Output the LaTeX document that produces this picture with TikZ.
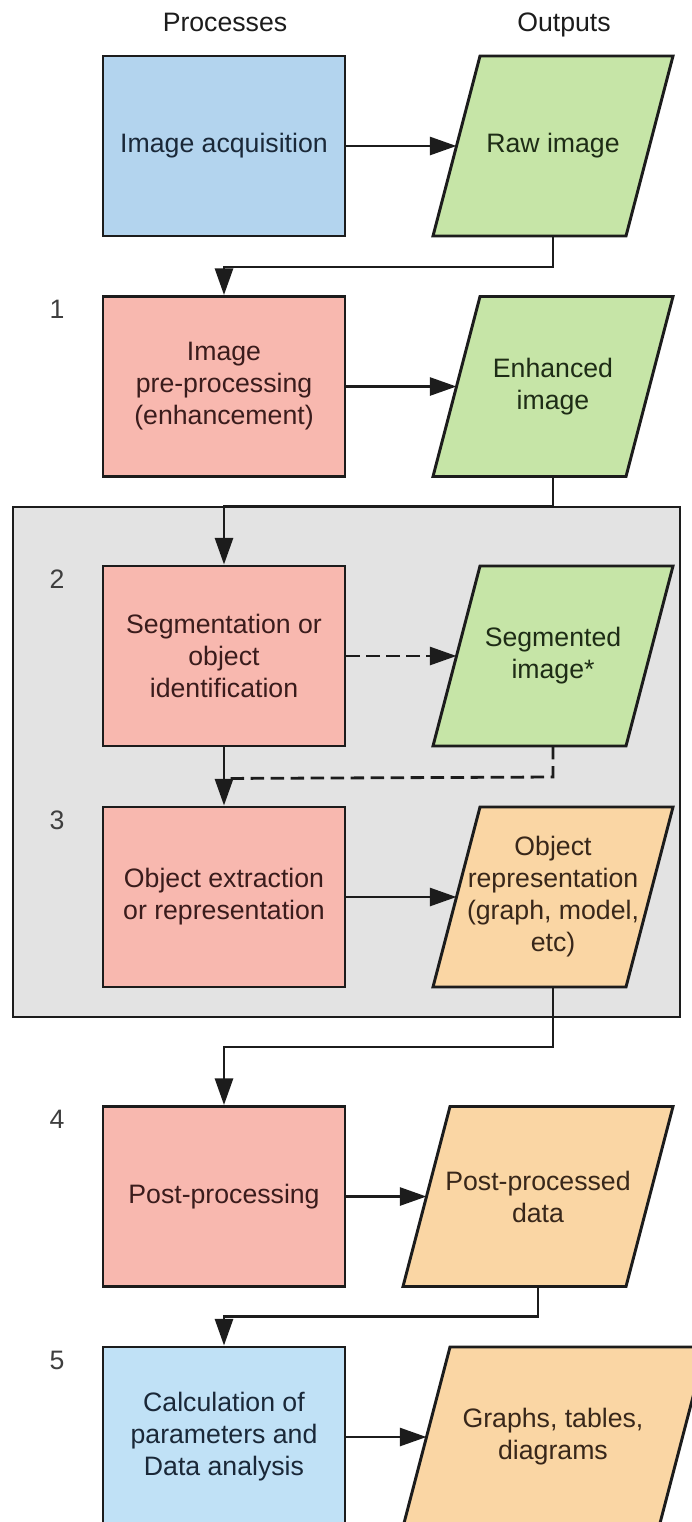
\documentclass[tikz,border=0pt]{standalone}
\usepackage{fontspec}
\setmainfont{Liberation Sans}
\usetikzlibrary{arrows.meta}

\definecolor{ink}{HTML}{1C1C1C}
\definecolor{acqblue}{HTML}{B3D4EE}
\definecolor{calcblue}{HTML}{C0E1F6}
\definecolor{procred}{HTML}{F8B8AF}
\definecolor{outgreen}{HTML}{C6E5A7}
\definecolor{outorange}{HTML}{FAD6A4}
\definecolor{stagegray}{HTML}{E3E3E3}
\definecolor{redtext}{HTML}{3A1C1C}
\definecolor{bluetext}{HTML}{1A2838}
\definecolor{greentext}{HTML}{1E2C16}
\definecolor{orangetext}{HTML}{38271A}

% parallelogram inside the frame of node #1, slanted by 47px (35.25pt)
\newcommand\dataslab[2]{%
  \draw[outpara, fill=#2] (#1.south west) -- ([xshift=-35.25pt]#1.south east)
    -- (#1.north east) -- ([xshift=35.25pt]#1.north west) -- cycle;
  \path ([xshift=17.625pt]#1.west) coordinate (#1-in);
  \path (#1.center |- #1.south) coordinate (#1-out);
}

\begin{document}
\begin{tikzpicture}[x=0.75pt,y=-0.75pt,
  font=\fontsize{20}{24}\selectfont,
  procbox/.style={rectangle, draw=ink, line width=2.2pt,
    minimum width=181.5pt, minimum height=135pt,
    align=center, inner sep=2pt},
  outframe/.style={rectangle, draw=none, minimum height=135pt,
    minimum width=180pt, inner sep=0pt, outer sep=0pt},
  outpara/.style={draw=ink, line width=2.2pt, line join=miter},
  outlabel/.style={align=center, inner sep=0pt},
  flow/.style={line width=2.1pt, draw=ink, -{Triangle[length=20pt,width=13.5pt]}},
  link/.style={line width=2.1pt, draw=ink},
  dashlink/.style={link, dash pattern=on 10pt off 5pt},
  stepnum/.style={text=ink!85, inner sep=0pt},
  colhead/.style={text=ink, inner sep=0pt, anchor=base}
]
\useasboundingbox (0,0) rectangle (692,1522);

% column headings
\node[colhead] (hproc) at (225,31) {Processes};
\node[colhead] (hout)  at (564,31) {Outputs};

% grey stage grouping steps 2 and 3
\draw[fill=stagegray, draw=ink, line width=2.2pt] (13,507) rectangle (680,1017);

% process boxes
\node[procbox, fill=acqblue, text=bluetext] (acq) at (224,146) {Image acquisition};
\node[procbox, fill=procred, text=redtext] (pre) at (224,386.5) {Image\\pre-processing\\(enhancement)};
\node[procbox, fill=procred, text=redtext] (seg) at (224,656) {Segmentation or\\object\\identification};
\node[procbox, fill=procred, text=redtext] (ext) at (224,897) {Object extraction\\or representation};
\node[procbox, fill=procred, text=redtext] (post) at (224,1196.5) {Post-processing};
\node[procbox, fill=calcblue, text=bluetext] (calc) at (224,1437) {Calculation of\\parameters and\\Data analysis};

% output frames and their parallelograms
\node[outframe] (raw) at (553,146) {};
\node[outframe] (enh) at (553,386.5) {};
\node[outframe] (segimg) at (553,656) {};
\node[outframe] (objrep) at (553,897) {};
\node[outframe, minimum width=202.5pt] (ppd) at (538,1196.5) {};
\node[outframe, minimum width=227.25pt] (graphs) at (554.5,1437) {};

\dataslab{raw}{outgreen}
\dataslab{enh}{outgreen}
\dataslab{segimg}{outgreen}
\dataslab{objrep}{outorange}
\dataslab{ppd}{outorange}
\dataslab{graphs}{outorange}

\node[outlabel, text=greentext] (raw-t) at (raw) {Raw image};
\node[outlabel, text=greentext] (enh-t) at (enh) {Enhanced\\image};
\node[outlabel, text=greentext] (segimg-t) at (segimg) {Segmented\\image*};
\node[outlabel, text=orangetext] (objrep-t) at (objrep) {Object\\representation\\(graph, model,\\etc)};
\node[outlabel, text=orangetext] (ppd-t) at (ppd) {Post-processed\\data};
\node[outlabel, text=orangetext] (graphs-t) at (553,1437) {Graphs, tables,\\diagrams};

% step numbers
\node[stepnum] (n1) at (57,309) {1};
\node[stepnum] (n2) at (57,579) {2};
\node[stepnum] (n3) at (57,820) {3};
\node[stepnum] (n4) at (57,1119) {4};
\node[stepnum] (n5) at (57,1360) {5};

% process -> output
\draw[flow] (acq) -- (raw-in);
\draw[flow] (pre) -- (enh-in);
\draw[flow, dash pattern=on 10pt off 5pt] (seg) -- (segimg-in);
\draw[flow] (ext) -- (objrep-in);
\draw[flow] (post) -- (ppd-in);
\draw[flow] (calc) -- (graphs-in);

% output -> next process
\draw[flow] (raw-out) -- ++(0,31) -| (pre.north);
\draw[flow] (enh-out) -- ++(0,30) -| (seg.north);
\path (seg.south) ++(0,31) coordinate (segjoin);
\draw[dashlink] (segimg-out) -- ++(0,31) -- (segjoin);
\draw[flow] (seg) -- (ext);
\draw[flow] (objrep-out) -- ++(0,60) -| (post.north);
\draw[flow] (ppd-out) -- ++(0,30) -| (calc.north);
\end{tikzpicture}
\end{document}
